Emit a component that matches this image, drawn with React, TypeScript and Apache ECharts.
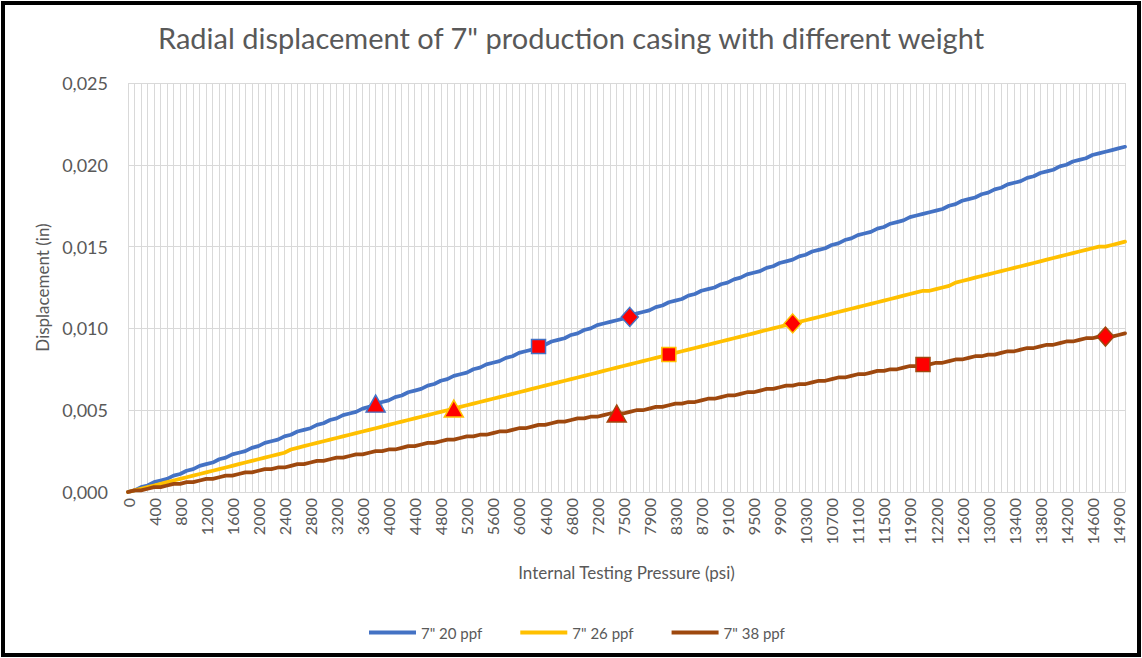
import React, { useEffect, useRef } from "react";
import * as echarts from "echarts";

const TITLE = 'Radial displacement of 7" production casing with different weight';
const X_NAME = "Internal Testing Pressure (psi)";
const Y_NAME = "Displacement (in)";
const SERIES_NAMES = ['7" 20 ppf', '7" 26 ppf', '7" 38 ppf'];
const SERIES_COLORS = ["#4472C4", "#FFC000", "#9E480E"];

// internal testing pressure categories (psi)
const pressurePsi = [
  0, 100, 200, 300, 400, 500, 600, 700, 800, 900,
  1000, 1100, 1200, 1300, 1400, 1500, 1600, 1700, 1800, 1900,
  2000, 2100, 2200, 2300, 2400, 2500, 2600, 2700, 2800, 2900,
  3000, 3100, 3200, 3300, 3400, 3500, 3600, 3700, 3800, 3900,
  4000, 4100, 4200, 4300, 4400, 4500, 4600, 4700, 4800, 4900,
  5000, 5100, 5200, 5300, 5400, 5500, 5600, 5700, 5800, 5900,
  6000, 6100, 6200, 6300, 6400, 6500, 6600, 6700, 6800, 6900,
  7000, 7100, 7200,
  7300, 7400, 7450, 7500,
  7600, 7700, 7800, 7900, 8000, 8100, 8200, 8300, 8400, 8500,
  8600, 8700, 8800, 8900, 9000, 9100, 9200, 9300, 9400, 9500,
  9600, 9700, 9800, 9900, 10000, 10100, 10200, 10300, 10400, 10500,
  10600, 10700, 10800, 10900, 11000, 11100, 11200, 11300, 11400, 11500,
  11600, 11700, 11800, 11900,
  12000, 12050, 12100, 12200,
  12300, 12400, 12500, 12600, 12700, 12800, 12900, 13000, 13100, 13200,
  13300, 13400, 13500, 13600, 13700, 13800, 13900, 14000, 14100, 14200,
  14300, 14400, 14500, 14600,
  14700, 14750, 14800, 14900, 15000,
];

// radial displacement (in), 7" 20 ppf
const disp20 = [
  0, 0.0001, 0.0003, 0.0004, 0.0006, 0.0007, 0.0008, 0.001, 0.0011, 0.0013,
  0.0014, 0.0016, 0.0017, 0.0018, 0.002, 0.0021, 0.0023, 0.0024, 0.0025, 0.0027,
  0.0028, 0.003, 0.0031, 0.0032, 0.0034, 0.0035, 0.0037, 0.0038, 0.0039, 0.0041,
  0.0042, 0.0044, 0.0045, 0.0047, 0.0048, 0.0049, 0.0051, 0.0052, 0.0054, 0.0055,
  0.0056, 0.0058, 0.0059, 0.0061, 0.0062, 0.0063, 0.0065, 0.0066, 0.0068, 0.0069,
  0.0071, 0.0072, 0.0073, 0.0075, 0.0076, 0.0078, 0.0079, 0.008, 0.0082, 0.0083,
  0.0085, 0.0086, 0.0087, 0.0089, 0.009, 0.0092, 0.0093, 0.0094, 0.0096, 0.0097,
  0.0099, 0.01, 0.0102,
  0.0103, 0.0104, 0.0105, 0.0106,
  0.0107, 0.0109, 0.011, 0.0111, 0.0113, 0.0114, 0.0116, 0.0117, 0.0118, 0.012,
  0.0121, 0.0123, 0.0124, 0.0125, 0.0127, 0.0128, 0.013, 0.0131, 0.0133, 0.0134,
  0.0135, 0.0137, 0.0138, 0.014, 0.0141, 0.0142, 0.0144, 0.0145, 0.0147, 0.0148,
  0.0149, 0.0151, 0.0152, 0.0154, 0.0155, 0.0157, 0.0158, 0.0159, 0.0161, 0.0162,
  0.0164, 0.0165, 0.0166, 0.0168,
  0.0169, 0.017, 0.0171, 0.0172,
  0.0173, 0.0175, 0.0176, 0.0178, 0.0179, 0.018, 0.0182, 0.0183, 0.0185, 0.0186,
  0.0188, 0.0189, 0.019, 0.0192, 0.0193, 0.0195, 0.0196, 0.0197, 0.0199, 0.02,
  0.0202, 0.0203, 0.0204, 0.0206,
  0.0207, 0.0208, 0.0209, 0.021, 0.0211,
];

// radial displacement (in), 7" 26 ppf
const disp26 = [
  0, 0.0001, 0.0002, 0.0003, 0.0004, 0.0005, 0.0006, 0.0007, 0.0008, 0.0009,
  0.001, 0.0011, 0.0012, 0.0013, 0.0014, 0.0015, 0.0016, 0.0017, 0.0018, 0.0019,
  0.002, 0.0021, 0.0022, 0.0023, 0.0024, 0.0026, 0.0027, 0.0028, 0.0029, 0.003,
  0.0031, 0.0032, 0.0033, 0.0034, 0.0035, 0.0036, 0.0037, 0.0038, 0.0039, 0.004,
  0.0041, 0.0042, 0.0043, 0.0044, 0.0045, 0.0046, 0.0047, 0.0048, 0.0049, 0.005,
  0.0051, 0.0052, 0.0053, 0.0054, 0.0055, 0.0056, 0.0057, 0.0058, 0.0059, 0.006,
  0.0061, 0.0062, 0.0063, 0.0064, 0.0065, 0.0066, 0.0067, 0.0068, 0.0069, 0.007,
  0.0071, 0.0072, 0.0073,
  0.0074, 0.0075, 0.0076, 0.0077,
  0.0078, 0.0079, 0.008, 0.0081, 0.0082, 0.0083, 0.0084, 0.0085, 0.0086, 0.0087,
  0.0088, 0.0089, 0.009, 0.0091, 0.0092, 0.0093, 0.0094, 0.0095, 0.0096, 0.0097,
  0.0098, 0.0099, 0.01, 0.0101, 0.0102, 0.0103, 0.0104, 0.0105, 0.0106, 0.0107,
  0.0108, 0.0109, 0.011, 0.0111, 0.0112, 0.0113, 0.0114, 0.0115, 0.0116, 0.0117,
  0.0118, 0.0119, 0.012, 0.0121,
  0.0122, 0.0123, 0.0123, 0.0124,
  0.0125, 0.0126, 0.0128, 0.0129, 0.013, 0.0131, 0.0132, 0.0133, 0.0134, 0.0135,
  0.0136, 0.0137, 0.0138, 0.0139, 0.014, 0.0141, 0.0142, 0.0143, 0.0144, 0.0145,
  0.0146, 0.0147, 0.0148, 0.0149,
  0.015, 0.015, 0.0151, 0.0152, 0.0153,
];

// radial displacement (in), 7" 38 ppf
const disp38 = [
  0, 0.0001, 0.0001, 0.0002, 0.0003, 0.0003, 0.0004, 0.0005, 0.0005, 0.0006,
  0.0006, 0.0007, 0.0008, 0.0008, 0.0009, 0.001, 0.001, 0.0011, 0.0012, 0.0012,
  0.0013, 0.0014, 0.0014, 0.0015, 0.0015, 0.0016, 0.0017, 0.0017, 0.0018, 0.0019,
  0.0019, 0.002, 0.0021, 0.0021, 0.0022, 0.0023, 0.0023, 0.0024, 0.0025, 0.0025,
  0.0026, 0.0026, 0.0027, 0.0028, 0.0028, 0.0029, 0.003, 0.003, 0.0031, 0.0032,
  0.0032, 0.0033, 0.0034, 0.0034, 0.0035, 0.0035, 0.0036, 0.0037, 0.0037, 0.0038,
  0.0039, 0.0039, 0.004, 0.0041, 0.0041, 0.0042, 0.0043, 0.0043, 0.0044, 0.0045,
  0.0045, 0.0046, 0.0046,
  0.0047, 0.0048, 0.0048, 0.0048,
  0.0049, 0.005, 0.005, 0.0051, 0.0052, 0.0052, 0.0053, 0.0054, 0.0054, 0.0055,
  0.0055, 0.0056, 0.0057, 0.0057, 0.0058, 0.0059, 0.0059, 0.006, 0.0061, 0.0061,
  0.0062, 0.0063, 0.0063, 0.0064, 0.0065, 0.0065, 0.0066, 0.0066, 0.0067, 0.0068,
  0.0068, 0.0069, 0.007, 0.007, 0.0071, 0.0072, 0.0072, 0.0073, 0.0074, 0.0074,
  0.0075, 0.0075, 0.0076, 0.0077,
  0.0077, 0.0078, 0.0078, 0.0079,
  0.0079, 0.008, 0.0081, 0.0081, 0.0082, 0.0083, 0.0083, 0.0084, 0.0084, 0.0085,
  0.0086, 0.0086, 0.0087, 0.0088, 0.0088, 0.0089, 0.009, 0.009, 0.0091, 0.0092,
  0.0092, 0.0093, 0.0094, 0.0094,
  0.0095, 0.0095, 0.0095, 0.0096, 0.0097,
];

// highlighted points (triangle, square, diamond) per casing
const markerSymbols = ["triangle", "rect", "diamond"];
const markerSizes: any[] = [[19, 17], 14, [17, 19]];
const markers20Psi = [3800, 6300, 7600];
const markers20Val = [0.0054, 0.0089, 0.0107];
const markers26Psi = [5000, 8200, 10100];
const markers26Val = [0.0051, 0.0084, 0.0103];
const markers38Psi = [7450, 12050, 14750];
const markers38Val = [0.0048, 0.0078, 0.0095];

const yTicks = [0, 0.005, 0.01, 0.015, 0.02, 0.025];

const FONT = "Lato";
const TXT = "#595959";
const GRID = "#D9D9D9";

function markerSeries(name: string, color: string, psi: number[], vals: number[]) {
  return {
    name,
    type: "scatter",
    z: 5,
    data: psi.map((p, i) => ({
      value: [String(p), vals[i]],
      symbol: markerSymbols[i],
      symbolSize: markerSizes[i],
    })),
    itemStyle: { color: "#FF0000", borderColor: color, borderWidth: 1.5, opacity: 1 },
    emphasis: { disabled: true },
  };
}

export default function App() {
  const ref = useRef<HTMLDivElement>(null);
  useEffect(() => {
    if (!ref.current) return;
    const chart = echarts.init(ref.current, null, { renderer: "svg" });
    const lines = [disp20, disp26, disp38].map((d, i) => ({
      name: SERIES_NAMES[i],
      type: "line",
      data: d,
      showSymbol: false,
      symbol: "none",
      z: 3,
      lineStyle: { color: SERIES_COLORS[i], width: 3.75, cap: "round", join: "round" },
      itemStyle: { color: SERIES_COLORS[i] },
      emphasis: { disabled: true },
    }));
    chart.setOption({
      animation: false,
      backgroundColor: "#fff",
      textStyle: { fontFamily: FONT },
      title: {
        text: TITLE,
        left: "center",
        top: 18,
        textStyle: { fontFamily: FONT, fontSize: 29, fontWeight: "normal", color: TXT },
      },
      graphic: [
        {
          type: "rect",
          shape: { x: 3, y: 3, width: 1136, height: 652 },
          style: { fill: "none", stroke: "#000", lineWidth: 4 },
          silent: true,
        },
      ],
      legend: {
        data: SERIES_NAMES,
        left: 364,
        top: 620,
        icon: "rect",
        itemWidth: 47,
        itemHeight: 4,
        itemGap: 38,
        textStyle: { fontFamily: FONT, fontSize: 15, color: TXT },
      },
      grid: { left: 128, top: 83, right: 17, bottom: 166, containLabel: false },
      xAxis: {
        type: "category",
        data: pressurePsi.map(String),
        boundaryGap: false,
        name: X_NAME,
        nameLocation: "middle",
        nameGap: 72,
        nameTextStyle: { fontFamily: FONT, fontSize: 17, color: TXT },
        axisLine: { lineStyle: { color: GRID, width: 1 } },
        axisTick: { show: false },
        axisLabel: { interval: 3, rotate: 90, fontFamily: FONT, fontSize: 16, color: TXT, margin: 6 },
        splitLine: { show: true, interval: 0, lineStyle: { color: GRID, width: 1 } },
      },
      yAxis: {
        type: "value",
        min: yTicks[0],
        max: yTicks[yTicks.length - 1],
        interval: yTicks[1],
        name: Y_NAME,
        nameLocation: "middle",
        nameRotate: 90,
        nameGap: 76,
        nameTextStyle: { fontFamily: FONT, fontSize: 17, color: TXT },
        axisLine: { show: false },
        axisTick: { show: false },
        axisLabel: {
          fontFamily: FONT,
          fontSize: 18,
          color: TXT,
          margin: 20,
          formatter: (v: number) => v.toFixed(3).replace(".", ","),
        },
        splitLine: { lineStyle: { color: GRID, width: 1 } },
      },
      series: [
        ...lines,
        markerSeries("m20", SERIES_COLORS[0], markers20Psi, markers20Val),
        markerSeries("m26", SERIES_COLORS[1], markers26Psi, markers26Val),
        markerSeries("m38", SERIES_COLORS[2], markers38Psi, markers38Val),
      ],
    });
    return () => chart.dispose();
  }, []);
  return (
    <div
      ref={ref}
      style={{ position: "fixed", left: 0, top: 0, width: 1142, height: 658, background: "#fff" }}
    />
  );
}
